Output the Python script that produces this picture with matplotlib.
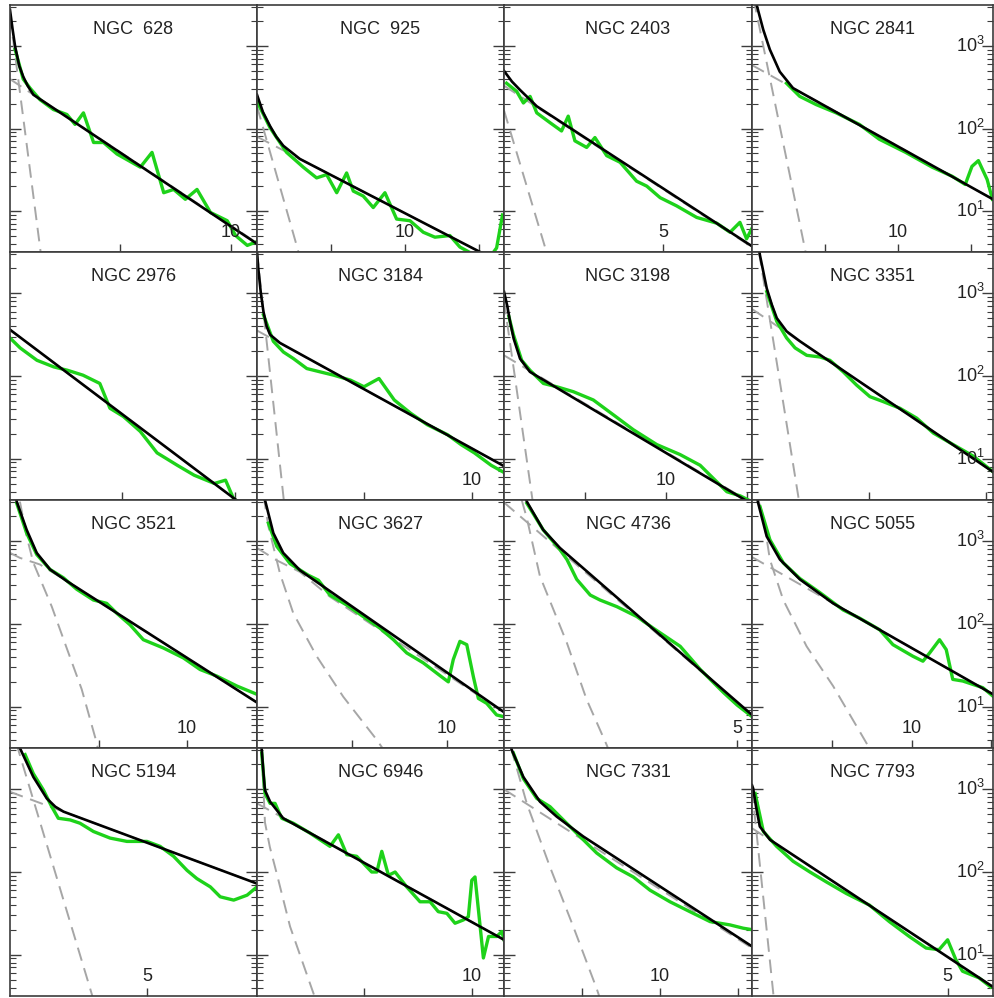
import matplotlib.pyplot as plt
import numpy as np

plt.rcParams['font.family'] = ['Liberation Sans', 'DejaVu Sans']
plt.rcParams['mathtext.fontset'] = 'custom'
plt.rcParams['mathtext.rm'] = 'Liberation Sans'

# radius (kpc) vs log10 surface density; obs = measured profile,
# fit = bulge+disk model, disk/bulge = the two model components
ngc628_obs = [(0.23, 2.96), (0.6, 2.6), (0.91, 2.49), (1.36, 2.35), (1.97, 2.23), (2.58, 2.17), (2.95, 2.05),
              (3.33, 2.19), (3.79, 1.83), (4.24, 1.83), (4.85, 1.69), (5.91, 1.53), (6.44, 1.71), (6.97, 1.22),
              (7.42, 1.26), (7.95, 1.14), (8.48, 1.26), (9.09, 0.98), (9.85, 0.88), (10.23, 0.70), (10.76, 0.58),
              (11.14, 0.62)]
ngc628_fit = [(0.0, 3.44), (0.12, 3.2), (0.23, 3.0), (0.42, 2.76), (0.6, 2.63), (0.8, 2.52), (1.06, 2.41), (11.2, 0.6)]
ngc628_disk = [(0.0, 2.6), (11.2, 0.61)]
ngc628_bulge = [(0.0, 3.37), (1.36, 0.56), (1.45, 0.37)]

ngc925_obs = [(0.0, 2.33), (0.88, 2.01), (2.0, 1.71), (3.13, 1.53), (4.03, 1.40), (4.71, 1.44), (5.39, 1.22),
              (6.06, 1.46), (6.51, 1.24), (7.18, 1.18), (7.86, 1.04), (8.65, 1.22), (9.44, 0.90), (10.34, 0.88),
              (11.24, 0.74), (12.03, 0.68), (13.04, 0.70), (13.72, 0.56), (14.84, 0.45), (15.6, 0.40),
              (16.2, 0.55), (16.6, 0.95)]
ngc925_fit = [(0.0, 2.41), (0.4, 2.2), (0.88, 2.03), (1.3, 1.9), (1.78, 1.79), (2.9, 1.63), (16.7, 0.35)]
ngc925_disk = [(0.0, 1.9), (16.7, 0.35)]
ngc925_bulge = [(0.0, 2.27), (2.68, 0.58), (2.85, 0.47)]

ngc2403_obs = [(0.08, 2.55), (0.4, 2.45), (0.61, 2.31), (0.82, 2.39), (1.03, 2.19), (1.45, 2.07), (1.81, 1.97),
               (2.02, 2.15), (2.23, 1.85), (2.6, 1.77), (2.86, 1.89), (3.23, 1.67), (3.65, 1.59), (4.17, 1.36),
               (4.49, 1.30), (4.91, 1.16), (5.43, 1.06), (6.06, 0.92), (6.69, 0.85), (7.11, 0.74), (7.42, 0.86),
               (7.63, 0.66), (7.84, 0.82)]
ngc2403_fit = [(0.0, 2.7), (0.25, 2.57), (0.5, 2.47), (1.03, 2.27), (7.8, 0.57)]
ngc2403_disk = [(0.0, 2.52), (7.8, 0.56)]
ngc2403_bulge = [(0.0, 2.22), (1.29, 0.56), (1.35, 0.48)]

ngc2841_obs = [(2.36, 2.55), (3.27, 2.39), (4.4, 2.29), (5.76, 2.19), (7.35, 2.05), (8.71, 1.87), (10.52, 1.71),
               (12.34, 1.53), (13.7, 1.42), (14.6, 1.32), (15.06, 1.54), (15.5, 1.61), (16.1, 1.38), (16.46, 1.14)]
ngc2841_fit = [(0.25, 3.56), (0.32, 3.5), (0.77, 3.2), (1.22, 2.96), (1.9, 2.69), (2.81, 2.49), (16.5, 1.14)]
ngc2841_disk = [(0.0, 2.77), (16.5, 1.14)]
ngc2841_bulge = [(0.0, 3.67), (3.6, 0.56), (3.7, 0.47)]

ngc2976_obs = [(0.0, 2.46), (0.09, 2.34), (0.24, 2.19), (0.39, 2.11), (0.51, 2.07), (0.65, 2.01), (0.8, 1.91),
               (0.89, 1.61), (1.01, 1.51), (1.16, 1.33), (1.31, 1.07), (1.49, 0.92), (1.64, 0.80), (1.82, 0.70),
               (1.92, 0.74), (1.99, 0.52), (2.05, 0.45)]
ngc2976_fit = [(0.0, 2.56), (2.2, 0.31)]
ngc2976_disk = [(0.0, 2.56), (2.2, 0.31)]
ngc2976_bulge = []

ngc3184_obs = [(0.3, 2.74), (0.76, 2.42), (1.23, 2.29), (1.7, 2.21), (2.32, 2.09), (2.94, 2.05), (3.57, 2.01),
               (4.35, 1.95), (4.98, 1.87), (5.68, 1.97), (6.39, 1.71), (7.15, 1.55), (7.93, 1.41), (8.87, 1.29),
               (9.5, 1.17), (10.12, 1.07), (10.9, 0.92), (11.59, 0.82)]
ngc3184_fit = [(0.0, 3.5), (0.06, 3.3), (0.18, 3.0), (0.3, 2.78), (0.45, 2.6), (0.61, 2.5), (1.07, 2.4), (11.5, 0.91)]
ngc3184_disk = [(0.0, 2.55), (11.5, 0.91)]
ngc3184_bulge = [(0.0, 3.5), (1.23, 0.54), (1.3, 0.37)]

ngc3198_obs = [(0.3, 2.72), (0.58, 2.5), (1.09, 2.19), (1.6, 2.07), (2.43, 1.91), (3.25, 1.87), (4.28, 1.81),
               (5.51, 1.71), (6.75, 1.53), (7.98, 1.35), (9.43, 1.17), (10.86, 1.05), (12.1, 0.92), (12.92, 0.76),
               (13.75, 0.60), (14.57, 0.55), (15.08, 0.5)]
ngc3198_fit = [(0.0, 3.02), (0.2, 2.85), (0.37, 2.66), (0.6, 2.45), (0.99, 2.21), (1.6, 2.05), (15.3, 0.45)]
ngc3198_disk = [(0.0, 2.25), (15.3, 0.46)]
ngc3198_bulge = [(0.0, 2.91), (1.7, 0.58), (1.8, 0.44)]

ngc3351_obs = [(0.63, 3.02), (1.06, 2.66), (1.48, 2.46), (1.84, 2.34), (2.34, 2.25), (2.91, 2.23), (3.33, 2.19),
               (3.9, 2.05), (4.47, 1.89), (5.04, 1.75), (5.61, 1.69), (6.32, 1.61), (7.04, 1.49), (7.75, 1.31),
               (8.6, 1.17), (9.46, 1.03), (10.31, 0.84)]
ngc3351_fit = [(0.25, 3.62), (0.34, 3.46), (0.63, 3.06), (0.85, 2.86), (1.06, 2.7), (1.48, 2.54), (2.05, 2.42),
               (10.3, 0.84)]
ngc3351_disk = [(0.0, 2.81), (10.3, 0.84)]
ngc3351_bulge = [(0.3, 3.5), (1.98, 0.54), (2.05, 0.42)]

ngc3521_obs = [(0.38, 3.46), (0.94, 3.1), (1.51, 2.84), (2.26, 2.66), (3.01, 2.56), (3.77, 2.42), (4.71, 2.29),
               (5.46, 2.25), (6.03, 2.13), (6.78, 1.99), (7.53, 1.81), (8.66, 1.71), (9.79, 1.59), (10.73, 1.45),
               (11.68, 1.37), (12.81, 1.25), (13.94, 1.15)]
ngc3521_fit = [(0.3, 3.56), (0.38, 3.48), (0.94, 3.14), (1.51, 2.86), (2.26, 2.66), (3.2, 2.52), (13.95, 1.05)]
ngc3521_disk = [(0.0, 2.86), (0.56, 2.8), (1.69, 2.72), (3.2, 2.52), (13.95, 1.05)]
ngc3521_bulge = [(0.56, 3.48), (0.94, 3.06), (1.32, 2.74), (2.36, 2.21), (3.2, 1.71), (4.05, 1.21), (4.9, 0.56),
                 (5.0, 0.45)]

ngc3627_obs = [(0.6, 3.22), (1.04, 2.94), (1.74, 2.73), (2.7, 2.59), (3.23, 2.53), (3.84, 2.35), (4.72, 2.23),
               (5.59, 2.09), (6.47, 1.95), (7.18, 1.81), (7.88, 1.65), (8.75, 1.53), (9.72, 1.36), (10.07, 1.30),
               (10.33, 1.57), (10.68, 1.79), (11.04, 1.75), (11.39, 1.36), (11.65, 1.10), (12.09, 1.04),
               (12.61, 0.90), (12.96, 0.88)]
ngc3627_fit = [(0.35, 3.6), (0.42, 3.5), (0.86, 3.1), (1.38, 2.86), (2.26, 2.65), (12.96, 0.94)]
ngc3627_disk = [(0.0, 2.92), (1.04, 2.77), (2.26, 2.63), (3.84, 2.33), (13.0, 0.93)]
ngc3627_bulge = [(0.35, 3.55), (0.6, 3.18), (1.21, 2.61), (1.91, 2.13), (3.14, 1.61), (4.54, 1.12), (6.3, 0.6),
                 (6.6, 0.5)]

ngc4736_obs = [(0.49, 3.46), (0.84, 3.14), (1.2, 2.9), (1.35, 2.78), (1.56, 2.54), (1.85, 2.35), (2.06, 2.29),
               (2.42, 2.21), (2.85, 2.09), (3.2, 1.95), (3.78, 1.73), (4.21, 1.45), (4.71, 1.17), (5.0, 1.02),
               (5.32, 0.88)]
ngc4736_fit = [(0.45, 3.55), (0.49, 3.48), (0.84, 3.14), (1.2, 2.92), (5.32, 0.9)]
ngc4736_disk = [(0.0, 3.47), (5.32, 0.9)]
ngc4736_bulge = [(0.38, 3.5), (0.49, 3.28), (0.77, 2.58), (1.35, 1.77), (1.77, 1.09), (2.2, 0.54), (2.25, 0.47)]

ngc5055_obs = [(0.5, 3.42), (1.12, 3.02), (1.96, 2.74), (3.0, 2.55), (4.25, 2.38), (5.71, 2.17), (6.75, 2.07),
               (8.0, 1.93), (8.83, 1.75), (10.08, 1.61), (10.71, 1.55), (11.13, 1.65), (11.75, 1.81),
               (12.17, 1.69), (12.58, 1.33), (13.21, 1.31), (13.83, 1.27), (14.46, 1.23), (15.08, 1.13)]
ngc5055_fit = [(0.3, 3.55), (0.39, 3.46), (0.92, 3.06), (1.75, 2.78), (3.0, 2.54), (5.08, 2.25), (15.1, 1.15)]
ngc5055_disk = [(0.0, 2.81), (15.1, 1.15)]
ngc5055_bulge = [(0.39, 3.5), (0.71, 3.3), (1.12, 2.78), (1.96, 2.29), (3.42, 1.73), (5.08, 1.25), (7.17, 0.56),
                 (7.4, 0.48)]

ngc5194_obs = [(0.55, 3.42), (0.85, 3.19), (1.22, 2.99), (1.52, 2.79), (1.76, 2.65), (2.19, 2.63), (2.55, 2.59),
               (3.04, 2.49), (3.65, 2.41), (4.26, 2.37), (4.99, 2.37), (5.47, 2.31), (5.96, 2.19), (6.45, 2.02),
               (6.81, 1.92), (7.3, 1.82), (7.66, 1.70), (8.15, 1.66), (8.64, 1.72), (9.0, 1.82)]
ngc5194_fit = [(0.33, 3.55), (0.36, 3.5), (0.85, 3.15), (1.34, 2.89), (1.65, 2.79), (1.95, 2.73), (9.0, 1.86)]
ngc5194_disk = [(0.0, 2.97), (9.0, 1.86)]
ngc5194_bulge = [(0.0, 3.81), (2.92, 0.59), (3.0, 0.5)]

ngc6946_obs = [(0.22, 3.44), (0.37, 2.95), (0.61, 2.83), (0.84, 2.83), (1.15, 2.65), (1.69, 2.59), (2.47, 2.47),
               (3.4, 2.31), (3.79, 2.45), (4.18, 2.21), (4.64, 2.19), (5.34, 2.0), (5.58, 2.0), (5.81, 2.25),
               (6.12, 1.96), (6.43, 2.0), (6.97, 1.82), (7.59, 1.64), (8.06, 1.64), (8.44, 1.52), (8.84, 1.5),
               (9.22, 1.38), (9.61, 1.42), (9.84, 1.46), (10.0, 1.9), (10.15, 1.94), (10.39, 1.34), (10.54, 0.96),
               (10.78, 1.22), (11.16, 1.22), (11.4, 1.28), (11.5, 1.18)]
ngc6946_fit = [(0.18, 3.55), (0.22, 3.48), (0.3, 3.2), (0.37, 2.99), (0.61, 2.85), (1.22, 2.65), (11.5, 1.18)]
ngc6946_disk = [(0.0, 2.83), (11.5, 1.18)]
ngc6946_bulge = [(0.12, 3.7), (0.25, 3.3), (0.37, 2.6), (0.6, 2.3), (0.92, 1.98), (1.54, 1.34), (2.55, 0.59),
                 (2.7, 0.48)]

ngc7331_obs = [(0.6, 3.44), (1.24, 3.13), (2.1, 2.89), (2.95, 2.79), (3.8, 2.63), (4.87, 2.43), (5.94, 2.23),
               (7.22, 2.05), (8.29, 1.94), (9.36, 1.78), (10.64, 1.64), (11.92, 1.52), (13.21, 1.40),
               (14.49, 1.36), (15.34, 1.32), (15.98, 1.30)]
ngc7331_fit = [(0.4, 3.56), (0.49, 3.48), (1.24, 3.15), (2.31, 2.85), (3.38, 2.67), (5.08, 2.43), (15.9, 1.1)]
ngc7331_disk = [(0.0, 3.0), (15.9, 1.08)]
ngc7331_bulge = [(0.45, 3.5), (0.6, 3.4), (1.46, 2.83), (2.95, 2.06), (4.44, 1.34), (5.94, 0.59), (6.1, 0.5)]

ngc7793_obs = [(0.08, 2.95), (0.29, 2.49), (0.63, 2.31), (1.05, 2.13), (1.48, 2.0), (1.9, 1.88), (2.41, 1.74),
               (3.0, 1.6), (3.51, 1.4), (4.02, 1.22), (4.45, 1.08), (4.78, 1.06), (5.0, 1.18), (5.21, 0.94),
               (5.38, 0.8), (5.8, 0.72), (6.1, 0.61)]
ngc7793_fit = [(0.0, 3.05), (0.03, 3.01), (0.1, 2.8), (0.2, 2.55), (0.46, 2.39), (6.16, 0.61)]
ngc7793_disk = [(0.0, 2.53), (6.16, 0.61)]
ngc7793_bulge = [(0.0, 3.0), (0.54, 0.55), (0.56, 0.45)]

names = ['NGC  628', 'NGC  925', 'NGC 2403', 'NGC 2841',
         'NGC 2976', 'NGC 3184', 'NGC 3198', 'NGC 3351',
         'NGC 3521', 'NGC 3627', 'NGC 4736', 'NGC 5055',
         'NGC 5194', 'NGC 6946', 'NGC 7331', 'NGC 7793']
profiles = [
    (ngc628_obs, ngc628_fit, ngc628_disk, ngc628_bulge),
    (ngc925_obs, ngc925_fit, ngc925_disk, ngc925_bulge),
    (ngc2403_obs, ngc2403_fit, ngc2403_disk, ngc2403_bulge),
    (ngc2841_obs, ngc2841_fit, ngc2841_disk, ngc2841_bulge),
    (ngc2976_obs, ngc2976_fit, ngc2976_disk, ngc2976_bulge),
    (ngc3184_obs, ngc3184_fit, ngc3184_disk, ngc3184_bulge),
    (ngc3198_obs, ngc3198_fit, ngc3198_disk, ngc3198_bulge),
    (ngc3351_obs, ngc3351_fit, ngc3351_disk, ngc3351_bulge),
    (ngc3521_obs, ngc3521_fit, ngc3521_disk, ngc3521_bulge),
    (ngc3627_obs, ngc3627_fit, ngc3627_disk, ngc3627_bulge),
    (ngc4736_obs, ngc4736_fit, ngc4736_disk, ngc4736_bulge),
    (ngc5055_obs, ngc5055_fit, ngc5055_disk, ngc5055_bulge),
    (ngc5194_obs, ngc5194_fit, ngc5194_disk, ngc5194_bulge),
    (ngc6946_obs, ngc6946_fit, ngc6946_disk, ngc6946_bulge),
    (ngc7331_obs, ngc7331_fit, ngc7331_disk, ngc7331_bulge),
    (ngc7793_obs, ngc7793_fit, ngc7793_disk, ngc7793_bulge),
]
rmax = [11.2, 16.7, 7.8, 16.5, 2.2, 11.5, 15.3, 10.3, 13.95, 13.0, 5.32, 15.1, 9.0, 11.5, 15.9, 6.16]
xticks = [[5, 10], [5, 10, 15], [5], [5, 10, 15], [1, 2], [5, 10], [5, 10, 15], [5, 10],
          [5, 10], [5, 10], [5], [5, 10, 15], [5], [5, 10], [5, 10, 15], [5]]
xlabel = [10, 10, 5, 10, None, 10, 10, None, 10, 10, 5, 10, 5, 10, 10, 5]
ydecades = [1, 2, 3]

W, H = 994, 998
col_left = [10, 257, 504, 752]
col_width = [247, 247, 248, 241]
row_top = [5, 252, 500, 748]
row_height = [247, 248, 248, 248]

fig = plt.figure(figsize=(W / 100, H / 100), dpi=100)
frame = '#3c3c3c'
ink = '#222222'

for i, name in enumerate(names):
    row, col = divmod(i, 4)
    ax = fig.add_axes([col_left[col] / W, 1 - (row_top[row] + row_height[row]) / H,
                       col_width[col] / W, row_height[row] / H])
    obs, fit, disk, bulge = profiles[i]

    for comp in (disk, bulge):
        if comp:
            r, lg = np.array(comp).T
            ax.plot(r, 10 ** lg, color='#a6a6a6', lw=1.4, dashes=(7, 4))
    r, lg = np.array(obs).T
    ax.plot(r, 10 ** lg, color='#1ed21a', lw=2.4, solid_joinstyle='round')
    r, lg = np.array(fit).T
    ax.plot(r, 10 ** lg, color='black', lw=1.9, solid_joinstyle='round')

    ax.set_yscale('log')
    ax.set_ylim(10 ** 0.5, 10 ** 3.5)
    ax.set_xlim(0, rmax[i])
    ax.set_xticks(xticks[i])
    ax.set_xticklabels([])
    ax.yaxis.set_minor_formatter(plt.NullFormatter())
    ax.set_yticklabels([])
    ax.tick_params(axis='x', direction='in', length=6, width=1, color=frame, top=False)
    ax.tick_params(axis='y', which='major', direction='in', length=8, width=1, color=frame,
                   left=True, right=True)
    ax.tick_params(axis='y', which='minor', direction='in', length=4.5, width=0.8, color=frame,
                   left=True, right=True)
    for s in ax.spines.values():
        s.set_color(frame)
        s.set_linewidth(1.2)

    ax.text(0.5, 0.9, name, transform=ax.transAxes, ha='center', va='center',
            fontsize=13, color=ink)
    if xlabel[i] is not None:
        ax.text(xlabel[i], 0.077, str(xlabel[i]), transform=ax.get_xaxis_transform(),
                ha='center', va='center', fontsize=13, color=ink)
    if col == 3:
        for d in ydecades:
            ax.text(0.965, 10 ** d, r'$\mathregular{10^{%d}}$' % d, transform=ax.get_yaxis_transform(),
                    ha='right', va='center', fontsize=13, color=ink)

fig.savefig('out.png', dpi=100)
